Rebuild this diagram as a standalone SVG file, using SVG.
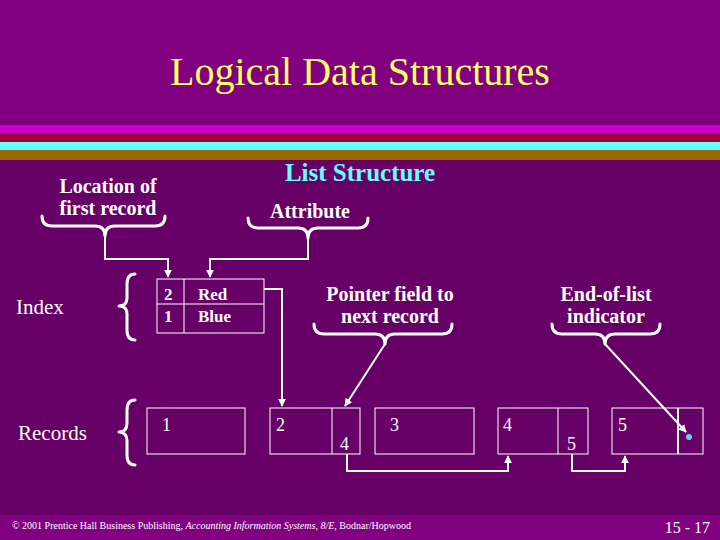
<svg xmlns="http://www.w3.org/2000/svg" width="720" height="540" viewBox="0 0 720 540">
<defs>
<style>
text{font-family:"Liberation Serif","Times New Roman",serif;fill:#fff}
.b{fill:none;stroke:#fff;stroke-width:1}
.br{fill:none;stroke:#fff;stroke-width:3;stroke-linecap:round;stroke-linejoin:round}
.c{fill:none;stroke:#fff;stroke-width:2}
</style>
<marker id="a" viewBox="0 0 10 10" refX="9" refY="5" markerWidth="4" markerHeight="4" orient="auto"><path d="M0,0L10,5L0,10z" fill="#fff"/></marker>
</defs>
<rect width="720" height="540" fill="#660066"/>
<rect width="720" height="125" fill="#800080"/>
<rect y="125" width="720" height="8" fill="#cc00cc"/>
<rect y="133" width="720" height="9" fill="#990033"/>
<rect y="142" width="720" height="8" fill="#66ffff"/>
<rect y="150" width="720" height="10" fill="#996600"/>
<rect y="515" width="720" height="25" fill="#800080"/>
<text x="360" y="85" text-anchor="middle" font-size="40" style="fill:#ffff66">Logical Data Structures</text>
<text x="360" y="181" text-anchor="middle" font-size="25" font-weight="bold" style="fill:#66ffff">List Structure</text>
<g id="labels" font-weight="bold" font-size="20">
<text x="108" y="193" text-anchor="middle">Location of</text>
<text x="108" y="215" text-anchor="middle">first record</text>
<text x="310" y="218" text-anchor="middle">Attribute</text>
<text x="390" y="301" text-anchor="middle">Pointer field to</text>
<text x="390" y="323" text-anchor="middle">next record</text>
<text x="606" y="301" text-anchor="middle">End-of-list</text>
<text x="606" y="323" text-anchor="middle">indicator</text>
<text x="16" y="314" font-weight="normal" font-size="21">Index</text>
<text x="18" y="440" font-weight="normal" font-size="21">Records</text>
</g>
<g id="braces">
<path class="br" d="M42,216 Q42,226 52,226 L95,226 Q105,226 105,236 Q105,226 115,226 L155,226 Q165,226 165,216"/>
<path class="br" d="M248,218 Q248,228 258,228 L298,228 Q308,228 308,238 Q308,228 318,228 L358,228 Q368,228 368,218"/>
<path class="br" d="M314,324 Q314,334 324,334 L375,334 Q385,334 385,344 Q385,334 395,334 L442,334 Q452,334 452,324"/>
<path class="br" d="M552,324 Q552,334 562,334 L595,334 Q605,334 605,344 Q605,334 615,334 L650,334 Q660,334 660,324"/>
<path class="br" d="M135,274 Q127,274 127,284 L127,298 Q127,306 119,306 Q127,306 127,314 L127,330 Q127,340 135,340"/>
<path class="br" d="M135,400 Q127,400 127,410 L127,423 Q127,432 119,432 Q127,432 127,441 L127,455 Q127,465 135,465"/>
</g>
<g id="index">
<rect class="b" x="157" y="279" width="107" height="54"/>
<line class="b" x1="157" y1="304" x2="264" y2="304"/>
<line class="b" x1="184" y1="279" x2="184" y2="333"/>
<text x="164" y="300" font-size="17" font-weight="bold">2</text>
<text x="198" y="300" font-size="17" font-weight="bold">Red</text>
<text x="164" y="322" font-size="17" font-weight="bold">1</text>
<text x="198" y="322" font-size="17" font-weight="bold">Blue</text>
</g>
<g id="r1"><rect class="b" x="147" y="408" width="98" height="46"/><text x="162" y="431" font-size="18">1</text></g>
<g id="r2"><rect class="b" x="270" y="408" width="90" height="46"/><line class="b" x1="332" y1="408" x2="332" y2="454"/><text x="276" y="431" font-size="18">2</text><text x="340" y="450" font-size="18">4</text></g>
<g id="r3"><rect class="b" x="375" y="408" width="99" height="46"/><text x="390" y="431" font-size="18">3</text></g>
<g id="r4"><rect class="b" x="498" y="408" width="90" height="46"/><line class="b" x1="558" y1="408" x2="558" y2="454"/><text x="503" y="431" font-size="18">4</text><text x="567" y="450" font-size="18">5</text></g>
<g id="r5"><rect class="b" x="612" y="408" width="91" height="46"/><line x1="678" y1="408" x2="678" y2="454" stroke="#fff" stroke-width="2"/><text x="618" y="431" font-size="18">5</text><circle cx="689" cy="437" r="3" fill="#66ccff"/></g>
<g id="connectors">
<path class="c" d="M105,236 L105,259 L168,259 L168,277" marker-end="url(#a)"/>
<path class="c" d="M308,238 L308,259 L210,259 L210,277" marker-end="url(#a)"/>
<path class="c" d="M264,289 L282,289 L282,406" marker-end="url(#a)"/>
<path class="c" d="M385,344 L345,406" marker-end="url(#a)"/>
<path class="c" stroke-width="3" d="M605,344 L686,432" marker-end="url(#a)"/>
<path class="c" d="M347,454 L347,471 L508,471 L508,456" marker-end="url(#a)"/>
<path class="c" d="M572,454 L572,471 L625,471 L625,456" marker-end="url(#a)"/>
</g>
<text x="12" y="529" font-size="10">© 2001 Prentice Hall Business Publishing, <tspan font-style="italic">Accounting Information Systems, 8/E</tspan>, Bodnar/Hopwood</text>
<text x="710" y="533" text-anchor="end" font-size="16">15 - 17</text>
</svg>
